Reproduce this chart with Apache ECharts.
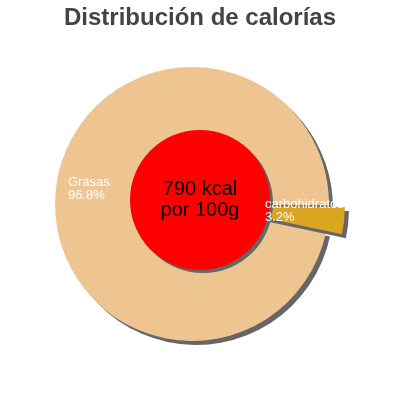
<!DOCTYPE html>
<html lang="es">
  <head>
    <meta charset="UTF-8">
    <title>Distribución de calorías</title>
    <script src="https://cdn.jsdelivr.net/npm/echarts@6/dist/echarts.min.js"></script>
    <style>
      html, body { margin: 0; padding: 0; background: #fff; }
      #chart { width: 400px; height: 400px; }
    </style>
  </head>
  <body>
    <div id="chart"></div>
    <script>
      // datos del gráfico
      const categories = ['Grasas', 'carbohidratos']
      const percents = [96.8, 3.2]
      const sliceColors = ['#EEC591', '#DAA520']
      const centerLines = ['790 kcal', 'por 100g']

      // desplazamiento de las etiquetas respecto al punto 'inside'
      const labelShift = [[-53, -7], [-14, -3]]

      const pieBase = {
        type: 'pie',
        center: [192, 204],
        radius: [0, 137],
        startAngle: -12,
        clockwise: true,
        selectedMode: 'single',
        selectedOffset: 16,
        silent: true
      }

      const pieData = categories.map((name, i) => ({
        name: name,
        value: percents[i],
        selected: i === 1,
        itemStyle: { color: sliceColors[i] }
      }))

      const labelData = categories.map((name, i) => ({
        name: name,
        value: percents[i],
        selected: i === 1
      }))

      const chart = echarts.init(document.getElementById('chart'), null, { renderer: 'canvas' })
      chart.setOption({
        animation: false,
        title: {
          text: 'Distribución de calorías',
          left: 'center',
          top: 1,
          textStyle: {
            fontFamily: 'Liberation Sans, Arial, sans-serif',
            fontSize: 24,
            fontWeight: 'bold',
            color: '#444444'
          }
        },
        series: [
          Object.assign({}, pieBase, {
            z: 2,
            data: pieData,
            itemStyle: {
              shadowColor: '#666666',
              shadowBlur: 0,
              shadowOffsetX: 4,
              shadowOffsetY: 4
            },
            label: { show: false },
            labelLine: { show: false }
          }),
          {
            type: 'pie',
            center: [200, 200],
            radius: [0, 70],
            silent: true,
            z: 5,
            data: [{ name: 'kcal', value: 1 }],
            itemStyle: {
              color: '#FF0000',
              shadowColor: '#666666',
              shadowBlur: 0,
              shadowOffsetX: 3,
              shadowOffsetY: 3
            },
            label: {
              show: true,
              position: 'center',
              color: '#000000',
              fontFamily: 'Liberation Sans, Arial, sans-serif',
              fontSize: 20,
              lineHeight: 21,
              formatter: () => centerLines.join('\n')
            },
            labelLine: { show: false }
          },
          // etiquetas encima del círculo rojo
          Object.assign({}, pieBase, {
            z: 10,
            data: labelData,
            itemStyle: { color: 'rgba(0,0,0,0)' },
            label: {
              show: true,
              position: 'inside',
              overflow: 'none',
              color: '#ffffff',
              fontFamily: 'Liberation Sans, Arial, sans-serif',
              fontSize: 13,
              lineHeight: 13,
              formatter: p => p.name + '\n' + p.value + '%'
            },
            labelLine: { show: false },
            labelLayout: p => ({
              dx: labelShift[p.dataIndex][0],
              dy: labelShift[p.dataIndex][1],
              width: 120,
              align: 'left',
              verticalAlign: 'middle'
            })
          })
        ]
      })
    </script>
  </body>
</html>
